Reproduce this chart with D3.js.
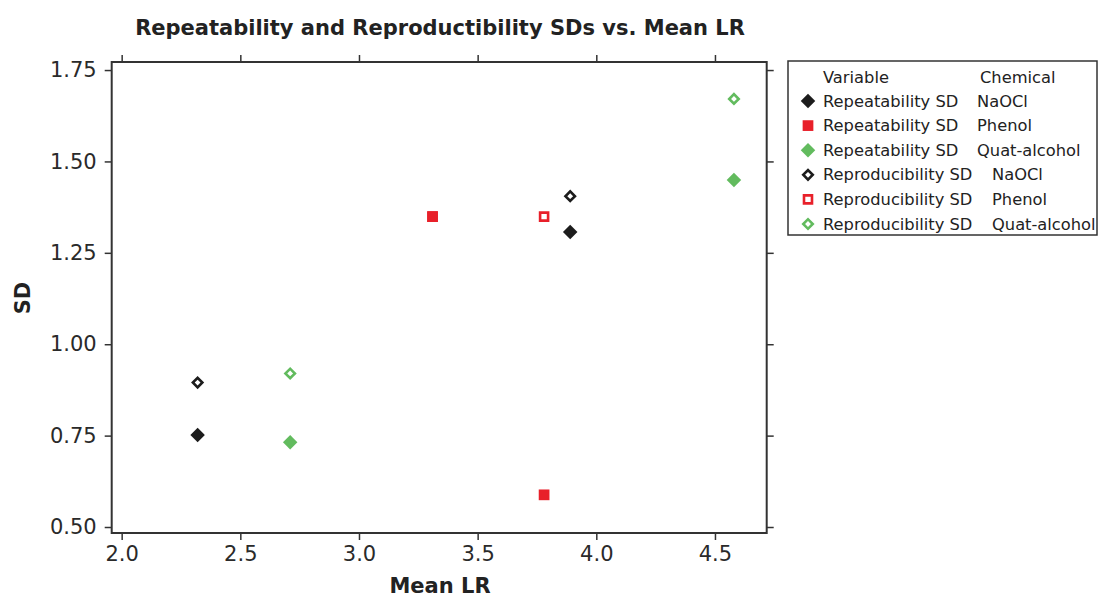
<!DOCTYPE html>
<html lang="en">
<head>
<meta charset="UTF-8">
<title>Repeatability and Reproducibility SDs</title>
<style>
body {
    margin: 0;
    background-color: #fff;
    font-family: "DejaVu Sans", Verdana, sans-serif;
}
</style>
</head>
<body>
<div id="plot"></div>
<script src="https://cdn.jsdelivr.net/npm/d3@7"></script>
<script>

const w = 1100,
      h = 599;

// data
const chemicals = ["NaOCl", "Phenol", "Quat-alcohol"];
const colors = ["#1c1c1c", "#e8202a", "#62bb5e"];
const meanLR = [[2.32, 3.89], [3.31, 3.78], [2.71, 4.58]];
const repeatSD = [[0.752, 1.307], [1.349, 0.588], [0.732, 1.449]];
const reproSD = [[0.895, 1.405], [1.349, 1.349], [0.920, 1.671]];
const xTicks = [2.0, 2.5, 3.0, 3.5, 4.0, 4.5];
const yTicks = [0.50, 0.75, 1.00, 1.25, 1.50, 1.75];

// set up svg
const plot = d3.select("#plot").append("svg")
    .attr("width", w)
    .attr("height", h);

const pLeft = 111.7, pRight = 766.7, pTop = 62, pBottom = 533;

const x = d3.scaleLinear().domain([1.958, 4.718]).range([pLeft, pRight]);
const y = d3.scaleLinear().domain([0.4836, 1.772]).range([pBottom, pTop]);

// axes
const styleAxis = (g) => {
    g.select(".domain").remove();
    g.selectAll("line").attr("stroke", "#333").attr("stroke-width", 1.5);
    g.selectAll("text").attr("fill", "#2a2a2a").style("font-size", "21px")
        .style("font-family", "DejaVu Sans, sans-serif");
};

plot.append("g")
    .attr("transform", `translate(0,${pBottom})`)
    .call(d3.axisBottom(x).tickValues(xTicks).tickSize(7).tickPadding(6).tickFormat(d3.format(".1f")))
    .call(styleAxis);

plot.append("g")
    .attr("transform", `translate(0,${pTop})`)
    .call(d3.axisTop(x).tickValues(xTicks).tickSize(7).tickFormat(""))
    .call(styleAxis);

plot.append("g")
    .attr("transform", `translate(${pLeft},0)`)
    .call(d3.axisLeft(y).tickValues(yTicks).tickSize(7).tickPadding(8).tickFormat(d3.format(".2f")))
    .call(styleAxis);

plot.append("g")
    .attr("transform", `translate(${pRight},0)`)
    .call(d3.axisRight(y).tickValues(yTicks).tickSize(7).tickFormat(""))
    .call(styleAxis);

// frame
plot.append("rect")
    .attr("x", pLeft).attr("y", pTop)
    .attr("width", pRight - pLeft).attr("height", pBottom - pTop)
    .attr("fill", "none")
    .attr("stroke", "#333")
    .attr("stroke-width", 2);

// titles
plot.append("text")
    .attr("x", 440).attr("y", 35)
    .attr("text-anchor", "middle")
    .attr("font-weight", "bold")
    .attr("font-size", "21px")
    .attr("fill", "#222")
    .text("Repeatability and Reproductibility SDs vs. Mean LR");

plot.append("text")
    .attr("x", 440).attr("y", 593)
    .attr("text-anchor", "middle")
    .attr("font-weight", "bold")
    .attr("font-size", "21px")
    .attr("fill", "#222")
    .text("Mean LR");

plot.append("text")
    .attr("transform", "translate(30,298) rotate(-90)")
    .attr("text-anchor", "middle")
    .attr("font-weight", "bold")
    .attr("font-size", "21px")
    .attr("fill", "#222")
    .text("SD");

// marker shapes
const filledDiamond = d3.symbol().type(d3.symbolSquare).size(105)();
const filledSquare = d3.symbol().type(d3.symbolSquare).size(115)();
const openDiamond = d3.symbol().type(d3.symbolSquare).size(45)();
const openSquare = d3.symbol().type(d3.symbolSquare).size(64)();

const marker = (g, i, filled) => {
    const isSquare = i === 1;
    g.append("path")
        .attr("d", filled ? (isSquare ? filledSquare : filledDiamond) : (isSquare ? openSquare : openDiamond))
        .attr("transform", isSquare ? null : "rotate(45)")
        .attr("fill", filled ? colors[i] : "#fff")
        .attr("stroke", colors[i])
        .attr("stroke-width", filled ? 0 : 2.6);
};

// points: reproducibility (open) under repeatability (filled)
chemicals.forEach((c, i) => {
    meanLR[i].forEach((m, j) => {
        plot.append("g")
            .attr("transform", `translate(${x(m)},${y(reproSD[i][j])})`)
            .call(marker, i, false);
    });
});
chemicals.forEach((c, i) => {
    meanLR[i].forEach((m, j) => {
        plot.append("g")
            .attr("transform", `translate(${x(m)},${y(repeatSD[i][j])})`)
            .call(marker, i, true);
    });
});

// legend
const legend = plot.append("g");
legend.append("rect")
    .attr("x", 788).attr("y", 61)
    .attr("width", 309).attr("height", 174)
    .attr("fill", "#fff")
    .attr("stroke", "#333")
    .attr("stroke-width", 1.5);

const legText = (xp, yp, t) => legend.append("text")
    .attr("x", xp).attr("y", yp)
    .attr("dominant-baseline", "central")
    .attr("font-size", "16.3px")
    .attr("fill", "#222")
    .text(t);

legText(823, 77, "Variable");
legText(980, 77, "Chemical");

const rows = [];
chemicals.forEach((c, i) => rows.push({label: "Repeatability SD", chem: c, i: i, filled: true}));
chemicals.forEach((c, i) => rows.push({label: "Reproducibility SD", chem: c, i: i, filled: false}));

rows.forEach((r, k) => {
    const yy = 101 + k * 24.6;
    legend.append("g")
        .attr("transform", `translate(808,${yy})`)
        .call(marker, r.i, r.filled);
    legText(823, yy, r.label);
    legText(r.filled ? 977 : 992, yy, r.chem);
});
</script>
</body>
</html>
